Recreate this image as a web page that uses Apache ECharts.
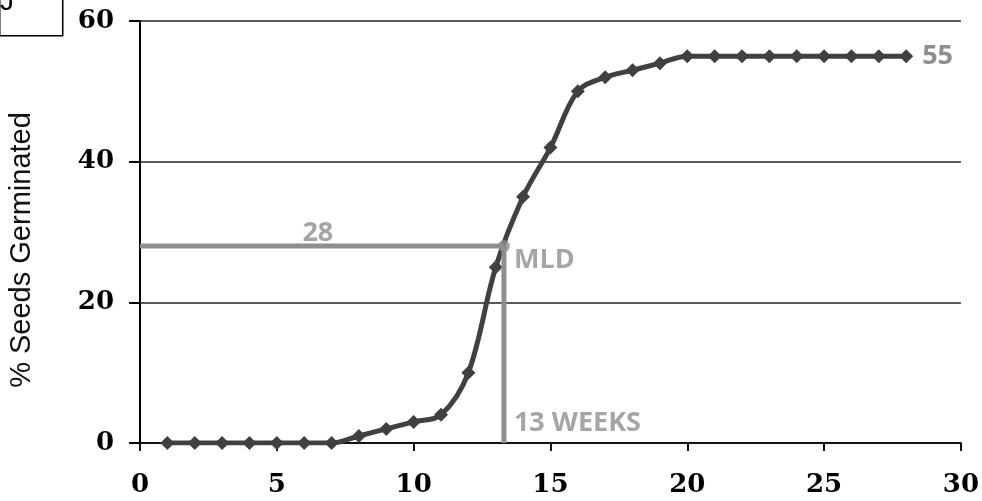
<!DOCTYPE html>
<html>
<head>
<meta charset="utf-8">
<script src="https://cdn.jsdelivr.net/npm/echarts@6/dist/echarts.min.js"></script>
<style>
  html, body { margin: 0; padding: 0; background: #fff; }
  #chart { width: 982px; height: 501px; }
</style>
</head>
<body>
<div id="chart"></div>
<script>
// Germination curve: week number vs cumulative % of seeds germinated
const weeks = [1, 2, 3, 4, 5, 6, 7, 8, 9, 10, 11, 12, 13, 14, 15, 16, 17, 18, 19, 20, 21, 22, 23, 24, 25, 26, 27, 28];
const germinated = [0, 0, 0, 0, 0, 0, 0, 1, 2, 3, 4, 10, 25, 35, 42, 50, 52, 53, 54, 55, 55, 55, 55, 55, 55, 55, 55, 55];

// Mean lag duration marker
const mldWeek = 13.3;
const mldPercent = 28;
const mldLabelWeek = 6.5;

// Axis ticks
const xTicks = [0, 5, 10, 15, 20, 25, 30];
const yTicks = [0, 20, 40, 60];

const refGray = '#8f8f8f';
const curveColor = '#404040';
const labelFont = { color: refGray, fontFamily: 'Open Sans', fontWeight: 'bold', fontSize: 27 };

const curveData = weeks.map((w, i) => {
  const item = { value: [w, germinated[i]] };
  if (i === weeks.length - 1) {
    item.label = Object.assign({
      show: true, position: 'right', distance: 9,
      formatter: String(germinated[i])
    }, labelFont);
  }
  return item;
});

const chart = echarts.init(document.getElementById('chart'));
chart.setOption({
  animation: false,
  backgroundColor: '#fff',
  grid: { left: 140, right: 21, top: 21, bottom: 58, containLabel: false },
  xAxis: {
    type: 'value',
    min: xTicks[0], max: xTicks[xTicks.length - 1], interval: 5,
    axisLine: { show: true, onZero: false, lineStyle: { color: '#111', width: 2 } },
    axisTick: { show: true, length: 8, lineStyle: { color: '#111', width: 2 } },
    axisLabel: {
      margin: 29, color: '#000', fontFamily: 'DejaVu Serif', fontWeight: 'bold', fontSize: 26
    },
    splitLine: { show: false }
  },
  yAxis: {
    type: 'value',
    min: yTicks[0], max: yTicks[yTicks.length - 1], interval: 20,
    axisLine: { show: true, lineStyle: { color: '#000', width: 2 } },
    axisTick: { show: true, length: 11, lineStyle: { color: '#000', width: 2 } },
    axisLabel: {
      margin: 26, color: '#000', fontFamily: 'DejaVu Serif', fontWeight: 'bold', fontSize: 26
    },
    splitLine: { show: true, lineStyle: { color: '#5a5a5a', width: 2 } }
  },
  graphic: [
    {
      type: 'rect', left: -1, top: -2,
      shape: { width: 63, height: 37 },
      style: { fill: '#fff', stroke: '#000', lineWidth: 1.5 }
    },
    {
      type: 'text', left: 0, top: -12,
      style: { text: 'J', fill: '#000', font: '28px "Liberation Sans"' }
    },
    {
      type: 'text', x: 22, y: 250, rotation: Math.PI / 2,
      style: {
        text: '% Seeds Germinated', fill: '#111',
        font: '29px "Liberation Sans"', align: 'center', verticalAlign: 'middle'
      }
    }
  ],
  series: [
    {
      name: 'Germination',
      type: 'line',
      data: curveData,
      smooth: 0.35,
      symbol: 'diamond',
      symbolSize: 14,
      itemStyle: { color: curveColor },
      lineStyle: { color: curveColor, width: 5 },
      z: 3
    },
    {
      name: 'MLD level',
      type: 'line',
      data: [[0, mldPercent], [mldWeek, mldPercent]],
      symbol: 'none',
      lineStyle: { color: refGray, width: 5 },
      z: 4
    },
    {
      name: 'MLD week',
      type: 'line',
      data: [[mldWeek, mldPercent], [mldWeek, 0]],
      symbol: 'none',
      lineStyle: { color: refGray, width: 5 },
      z: 4
    },
    {
      name: 'MLD point',
      type: 'scatter',
      data: [[mldWeek, mldPercent]],
      symbol: 'circle',
      symbolSize: 12,
      itemStyle: { color: refGray },
      label: Object.assign({
        show: true, position: 'right', distance: 4, offset: [0, 14],
        formatter: 'MLD'
      }, labelFont),
      z: 5
    },
    {
      name: 'MLD labels',
      type: 'scatter',
      symbolSize: 0,
      data: [
        {
          value: [mldLabelWeek, mldPercent],
          label: { position: 'top', distance: -1, formatter: String(mldPercent) }
        },
        {
          value: [mldWeek, 0],
          label: { position: 'right', distance: 10, offset: [0, -20], formatter: Math.round(mldWeek) + ' WEEKS' }
        }
      ],
      label: Object.assign({ show: true }, labelFont),
      z: 5
    }
  ]
});
</script>
</body>
</html>
